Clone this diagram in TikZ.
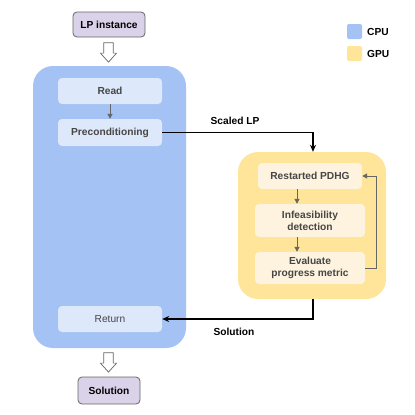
\documentclass[tikz,border=0pt]{standalone}
\usepackage{fontspec}
\setmainfont{Liberation Sans}
\usetikzlibrary{arrows.meta}
\definecolor{cpuc}{HTML}{A4C2F4}
\definecolor{cpuin}{HTML}{DEE8FB}
\definecolor{gpuc}{HTML}{FFE599}
\definecolor{gpuin}{HTML}{FDF3DF}
\definecolor{ioc}{HTML}{D9D2E9}
\definecolor{txt}{HTML}{464646}
\definecolor{grayline}{HTML}{666666}
\tikzset{
  x=1pt,y=-1pt,
  every node/.style={font=\fontsize{10.2}{12}\selectfont\bfseries},
  bigcpu/.style={fill=cpuc,rounded corners=20pt,draw=none},
  biggpu/.style={fill=gpuc,rounded corners=20pt,draw=none},
  incpu/.style={fill=cpuin,rounded corners=4pt,draw=none,text=txt,align=center},
  ingpu/.style={fill=gpuin,rounded corners=4pt,draw=none,text=txt,align=center},
  iobox/.style={fill=ioc,draw=grayline,line width=0.8pt,rounded corners=4pt,text=black},
  inarrow/.style={draw=grayline,line width=1pt,-{Triangle[length=5pt,width=5pt]}},
  flow/.style={draw=black,line width=1.2pt,-{Stealth[length=7pt,width=6pt]}},
  hollow/.style={draw=grayline,fill=white,line width=0.7pt,line join=miter},
  legsq/.style={rounded corners=2pt,minimum width=15pt,minimum height=15pt,inner sep=0pt},
  lbl/.style={text=black}
}
\newcommand{\hollowarrow}[1]{%
  \draw[hollow] ($(#1)+(-4.8,0)$) -- ++(0,10.3) -- ++(-3.3,0) -- ($(#1)+(0,19.3)$)
    -- ($(#1)+(8.1,10.3)$) -- ++(-3.3,0) -- ++(0,-10.3) -- cycle;}
\usetikzlibrary{calc}
\begin{document}
\begin{tikzpicture}
\useasboundingbox (0,0) rectangle (415,415);
% big containers
\node[bigcpu,minimum width=153pt,minimum height=282pt] (cpu) at (109.5,207) {};
\node[biggpu,minimum width=148pt,minimum height=147pt] (gpu) at (312,225.5) {};
% io boxes
\node[iobox,minimum width=72pt,minimum height=25pt] (lp) at (109,24.5) {LP instance};
\node[iobox,minimum width=62pt,minimum height=27pt] (sol) at (109,390.5) {Solution};
\coordinate (ha1) at (108.5,42.8);
\coordinate (ha2) at (108.5,352.8);
\hollowarrow{ha1}
\hollowarrow{ha2}
% cpu inner
\node[incpu,minimum width=104pt,minimum height=26pt] (read) at (110,91) {Read};
\node[incpu,minimum width=104pt,minimum height=27pt] (pre) at (110,132.5) {Preconditioning};
\node[incpu,minimum width=104pt,minimum height=26pt,font=\fontsize{10.2}{12}\selectfont] (ret) at (110,319) {Return};
% gpu inner
\node[ingpu,minimum width=104pt,minimum height=26pt] (pdhg) at (310,176) {Restarted PDHG};
\node[ingpu,minimum width=110pt,minimum height=33pt] (inf) at (310,220.5) {Infeasibility\\detection};
\node[ingpu,minimum width=110pt,minimum height=32pt] (eva) at (310,268) {Evaluate\\progress metric};
% inner arrows
\draw[inarrow] (read) -- (pre);
\draw[inarrow] (pdhg.south -| 297,0) -- (inf.north -| 297,0);
\draw[inarrow] (inf.south -| 297,0) -- (eva.north -| 297,0);
\draw[inarrow] (eva.east) -- (376,268) -- (376,176) -- (pdhg.east);
% flows
\coordinate (c1) at (313,132.5);
\coordinate (c2) at (313,319);
\draw[flow] (pre.east) -- (c1) -- (c1 |- gpu.north);
\draw[flow] (c2 |- gpu.south) -- (c2) -- (ret.east);
\node[lbl] (lscaled) at (235,121) {Scaled LP};
\node[lbl] (lsol) at (234,332) {Solution};
% legend
\node[legsq,fill=cpuc] (lcpu) at (354.5,31.5) {};
\node[legsq,fill=gpuc] (lgpu) at (354.5,53.5) {};
\node[lbl,anchor=west,inner sep=0pt] (tcpu) at (367,32) {CPU};
\node[lbl,anchor=west,inner sep=0pt] (tgpu) at (367,54) {GPU};
\end{tikzpicture}
\end{document}
